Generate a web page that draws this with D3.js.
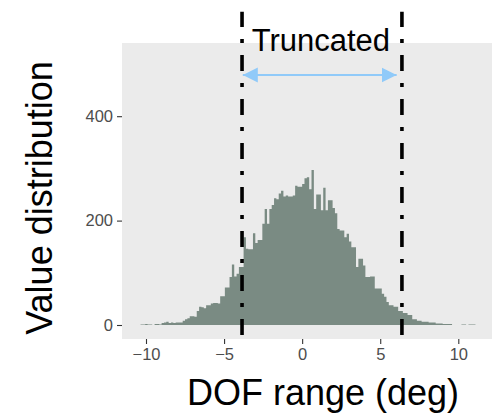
<!DOCTYPE html>
<html lang="en">
<head>
<meta charset="UTF-8">
<title>DOF range histogram</title>
<script src="https://d3js.org/d3.v7.min.js"></script>
<style>
    body { margin: 0; background: #fff; font-family: "Liberation Sans", Arial, sans-serif; }
    svg { display: block; }
    .tick text { fill: #4D4D4D; font-size: 16.5px; font-family: "Liberation Sans", Arial, sans-serif; }
    .tick line { stroke: #333333; stroke-width: 1.1; }
    .title { fill: #000; font-size: 36px; }
</style>
</head>
<body>
<div id="chart"></div>
<script>
// histogram bins (deg), counts per bin
var binStart = -10.35;
var binWidth = 0.15;
var counts = [
    1, 1, 2, 1, 1, 0, 2, 2, 1, 4,
    5, 6, 4, 5, 4, 5, 5, 5, 8, 11,
    13, 17, 17, 16, 27, 35, 34, 32, 38, 38,
    41, 42, 42, 41, 55, 55, 72, 72, 92, 116,
    93, 98, 111, 111, 168, 146, 145, 145, 176, 157,
    163, 163, 194, 222, 194, 222, 230, 243, 241, 252,
    257, 246, 248, 246, 246, 248, 267, 265, 265, 270,
    281, 283, 260, 297, 222, 250, 250, 220, 263, 220,
    239, 239, 224, 214, 184, 181, 181, 168, 175, 160,
    149, 149, 111, 127, 127, 114, 92, 92, 93, 93,
    70, 70, 70, 60, 54, 44, 38, 38, 35, 35,
    27, 27, 23, 23, 19, 19, 11, 11, 8, 8,
    6, 6, 6, 5, 5, 5, 3, 3, 3, 2,
    2, 2, 2, 0, 0, 0, 0, 1, 1, 0,
    1, 1, 1
];
var xTicks = [-10, -5, 0, 5, 10];
var yTicks = [0, 200, 400];
var cutoffs = [-3.85, 6.39];      // truncation limits
var cutoffSpan = [-19, 600];      // vertical extent of the cutoff lines (counts)
var arrowSpan = [-3.8, 6.05];
var arrowLevel = 479;
var labelPos = [1.2, 525];
var labelText = "Truncated";

var width = 492, height = 416;
var panel = { left: 122, top: 43, right: 500, bottom: 339 };

var svg = d3.select("#chart").append("svg")
    .attr("width", width)
    .attr("height", height);

var x = d3.scaleLinear().domain([-10, 10]).range([146, 458.3]);
var y = d3.scaleLinear().domain([0, 400]).range([325, 116.2]);

// panel background
svg.append("rect")
    .attr("x", panel.left)
    .attr("y", panel.top)
    .attr("width", panel.right - panel.left)
    .attr("height", panel.bottom - panel.top)
    .attr("fill", "#EBEBEB");

svg.append("clipPath").attr("id", "clip")
    .append("rect")
    .attr("x", panel.left)
    .attr("y", panel.top)
    .attr("width", panel.right - panel.left)
    .attr("height", panel.bottom - panel.top);

var bins = counts.map(function(c, i) {
    return { x0: binStart + i * binWidth, x1: binStart + (i + 1) * binWidth, n: c };
});

// one stepped shape so neighbouring bars don't show seams
var area = d3.area()
    .curve(d3.curveStepAfter)
    .x(function(d) { return x(d.x); })
    .y0(y(0))
    .y1(function(d) { return y(d.n); });

var steps = bins.map(function(b) { return { x: b.x0, n: b.n }; });
steps.push({ x: bins[bins.length - 1].x1, n: bins[bins.length - 1].n });

svg.append("path")
    .attr("clip-path", "url(#clip)")
    .attr("d", area(steps))
    .attr("fill", "#7A8B83");

// axes
var xAxis = svg.append("g")
    .attr("transform", "translate(0," + panel.bottom + ")")
    .call(d3.axisBottom(x).tickValues(xTicks).tickSize(5).tickPadding(4));
xAxis.select(".domain").remove();

var yAxis = svg.append("g")
    .attr("transform", "translate(" + panel.left + ",0)")
    .call(d3.axisLeft(y).tickValues(yTicks).tickSize(5).tickPadding(4));
yAxis.select(".domain").remove();

// cutoff lines
svg.selectAll(".cutoff")
    .data(cutoffs)
    .enter().append("line")
    .attr("class", "cutoff")
    .attr("x1", function(d) { return x(d); })
    .attr("x2", function(d) { return x(d); })
    .attr("y1", y(cutoffSpan[0]))
    .attr("y2", y(cutoffSpan[1]))
    .attr("stroke", "#000")
    .attr("stroke-width", 3.6)
    .attr("stroke-dasharray", "16 12 4 12");

// double arrow
var defs = svg.append("defs");
defs.append("marker")
    .attr("id", "head")
    .attr("markerUnits", "userSpaceOnUse")
    .attr("markerWidth", 16)
    .attr("markerHeight", 16)
    .attr("viewBox", "0 0 16 16")
    .attr("refX", 15)
    .attr("refY", 8)
    .attr("orient", "auto-start-reverse")
    .append("path")
    .attr("d", "M0,0.5 L15,8 L0,15.5 Z")
    .attr("fill", "#90CAF9");

svg.append("line")
    .attr("x1", x(arrowSpan[0]))
    .attr("x2", x(arrowSpan[1]))
    .attr("y1", y(arrowLevel))
    .attr("y2", y(arrowLevel))
    .attr("stroke", "#90CAF9")
    .attr("stroke-width", 2)
    .attr("marker-start", "url(#head)")
    .attr("marker-end", "url(#head)");

svg.append("text")
    .attr("x", x(labelPos[0]))
    .attr("y", y(labelPos[1]))
    .attr("text-anchor", "middle")
    .style("font-size", "31px")
    .attr("fill", "#000")
    .text(labelText);

// axis titles
svg.append("text")
    .attr("class", "title")
    .attr("x", 323)
    .attr("y", 405)
    .attr("text-anchor", "middle")
    .text("DOF range (deg)");

svg.append("text")
    .attr("class", "title")
    .attr("transform", "translate(52,198) rotate(-90)")
    .attr("text-anchor", "middle")
    .text("Value distribution");
</script>
</body>
</html>
